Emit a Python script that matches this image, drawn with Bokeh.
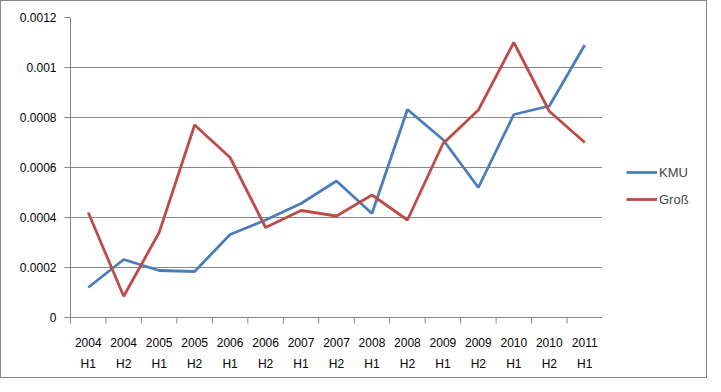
from bokeh.plotting import figure
from bokeh.layouts import row
from bokeh.models import FixedTicker, Legend, LegendItem, ColumnDataSource, FactorRange
from bokeh.transform import dodge
from bokeh.embed import file_html
from bokeh.resources import INLINE

categories = ["2004\nH1", "2004\nH2", "2005\nH1", "2005\nH2", "2006\nH1", "2006\nH2",
              "2007\nH1", "2007\nH2", "2008\nH1", "2008\nH2", "2009\nH1", "2009\nH2",
              "2010\nH1", "2010\nH2", "2011\nH1"]
kmu = [0.00012, 0.000232, 0.000188, 0.000184, 0.000332, 0.00039, 0.000456, 0.000546,
       0.000416, 0.000832, 0.000712, 0.00052, 0.000812, 0.000846, 0.00109]
gross = [0.00042, 0.000085, 0.00034, 0.00077, 0.00064, 0.00036, 0.000428, 0.000406,
         0.00049, 0.00039, 0.000695, 0.00083, 0.0011, 0.000825, 0.0007]
y_ticks = [0, 0.0002, 0.0004, 0.0006, 0.0008, 0.001, 0.0012]
y_labels = ["0", "0.0002", "0.0004", "0.0006", "0.0008", "0.001", "0.0012"]
series_names = ["KMU", "Groß"]
series_keys = ["kmu", "gross"]
series_colors = ["#4a7ebb", "#be4b48"]

FONT = "Liberation Sans"
GRID = "#868686"

p = figure(width=601, height=376, x_range=FactorRange(*categories, range_padding=0),
           y_range=(0, 0.0012), output_backend="svg", toolbar_location=None,
           min_border_left=69, min_border_right=0, min_border_top=16, min_border_bottom=60)
p.outline_line_color = None
p.background_fill_color = "white"
p.border_fill_color = "white"

src = ColumnDataSource(dict(cat=categories, kmu=kmu, gross=gross))
for key, color in zip(series_keys, series_colors):
    p.line("cat", key, source=src, line_color=color, line_width=2.8)

# y axis
p.yaxis.ticker = FixedTicker(ticks=y_ticks)
p.yaxis.major_label_overrides = {t: l for t, l in zip(y_ticks, y_labels)}
p.yaxis.axis_line_color = GRID
p.yaxis.major_tick_line_color = GRID
p.yaxis.major_tick_out = 6
p.yaxis.major_tick_in = 0
p.yaxis.minor_tick_line_color = None
p.yaxis.major_label_text_font = FONT
p.yaxis.major_label_text_font_size = "12px"
p.yaxis.major_label_text_color = "black"
p.yaxis.major_label_standoff = 8

# x axis
p.xaxis.axis_line_color = GRID
p.xaxis.major_tick_line_color = None
p.xaxis.major_label_text_font = FONT
p.xaxis.major_label_text_font_size = "12px"
p.xaxis.major_label_text_color = "black"
p.xaxis.major_label_standoff = 12
p.xaxis.major_label_text_line_height = 1.5

# boundary ticks on the x axis
p.segment(x0=dodge("cat", -0.5, range=p.x_range), x1=dodge("cat", -0.5, range=p.x_range),
          y0=0, y1=-0.000024, source=src, line_color=GRID, line_width=1, level="overlay")
p.segment(x0=dodge("cat", 0.5, range=p.x_range), x1=dodge("cat", 0.5, range=p.x_range),
          y0=0, y1=-0.000024, source=ColumnDataSource(dict(cat=[categories[-1]])),
          line_color=GRID, line_width=1, level="overlay")

p.xgrid.grid_line_color = None
p.ygrid.grid_line_color = GRID
p.ygrid.grid_line_width = 1

# legend panel (series drawn out of view, only used for legend swatches)
p2 = figure(width=104, height=376, x_range=FactorRange(*categories), y_range=(1, 2),
            output_backend="svg", toolbar_location=None, min_border=0,
            outline_line_color=None)
p2.axis.visible = False
p2.grid.visible = False
items = []
for name, key, color in zip(series_names, series_keys, series_colors):
    r = p2.line("cat", key, source=src, line_color=color, line_width=2.8)
    items.append(LegendItem(label=name, renderers=[r]))
legend = Legend(items=items, location=(24, 108), border_line_color=None,
                background_fill_alpha=0, glyph_width=31, label_text_font=FONT,
                label_text_font_size="13px", label_standoff=2, spacing=7,
                padding=0, margin=0)
p2.add_layout(legend, "center")

layout = row(p, p2, spacing=0)
layout.styles = {"border": "1px solid #868686"}

open("out.html", "w").write(file_html(layout, INLINE))
